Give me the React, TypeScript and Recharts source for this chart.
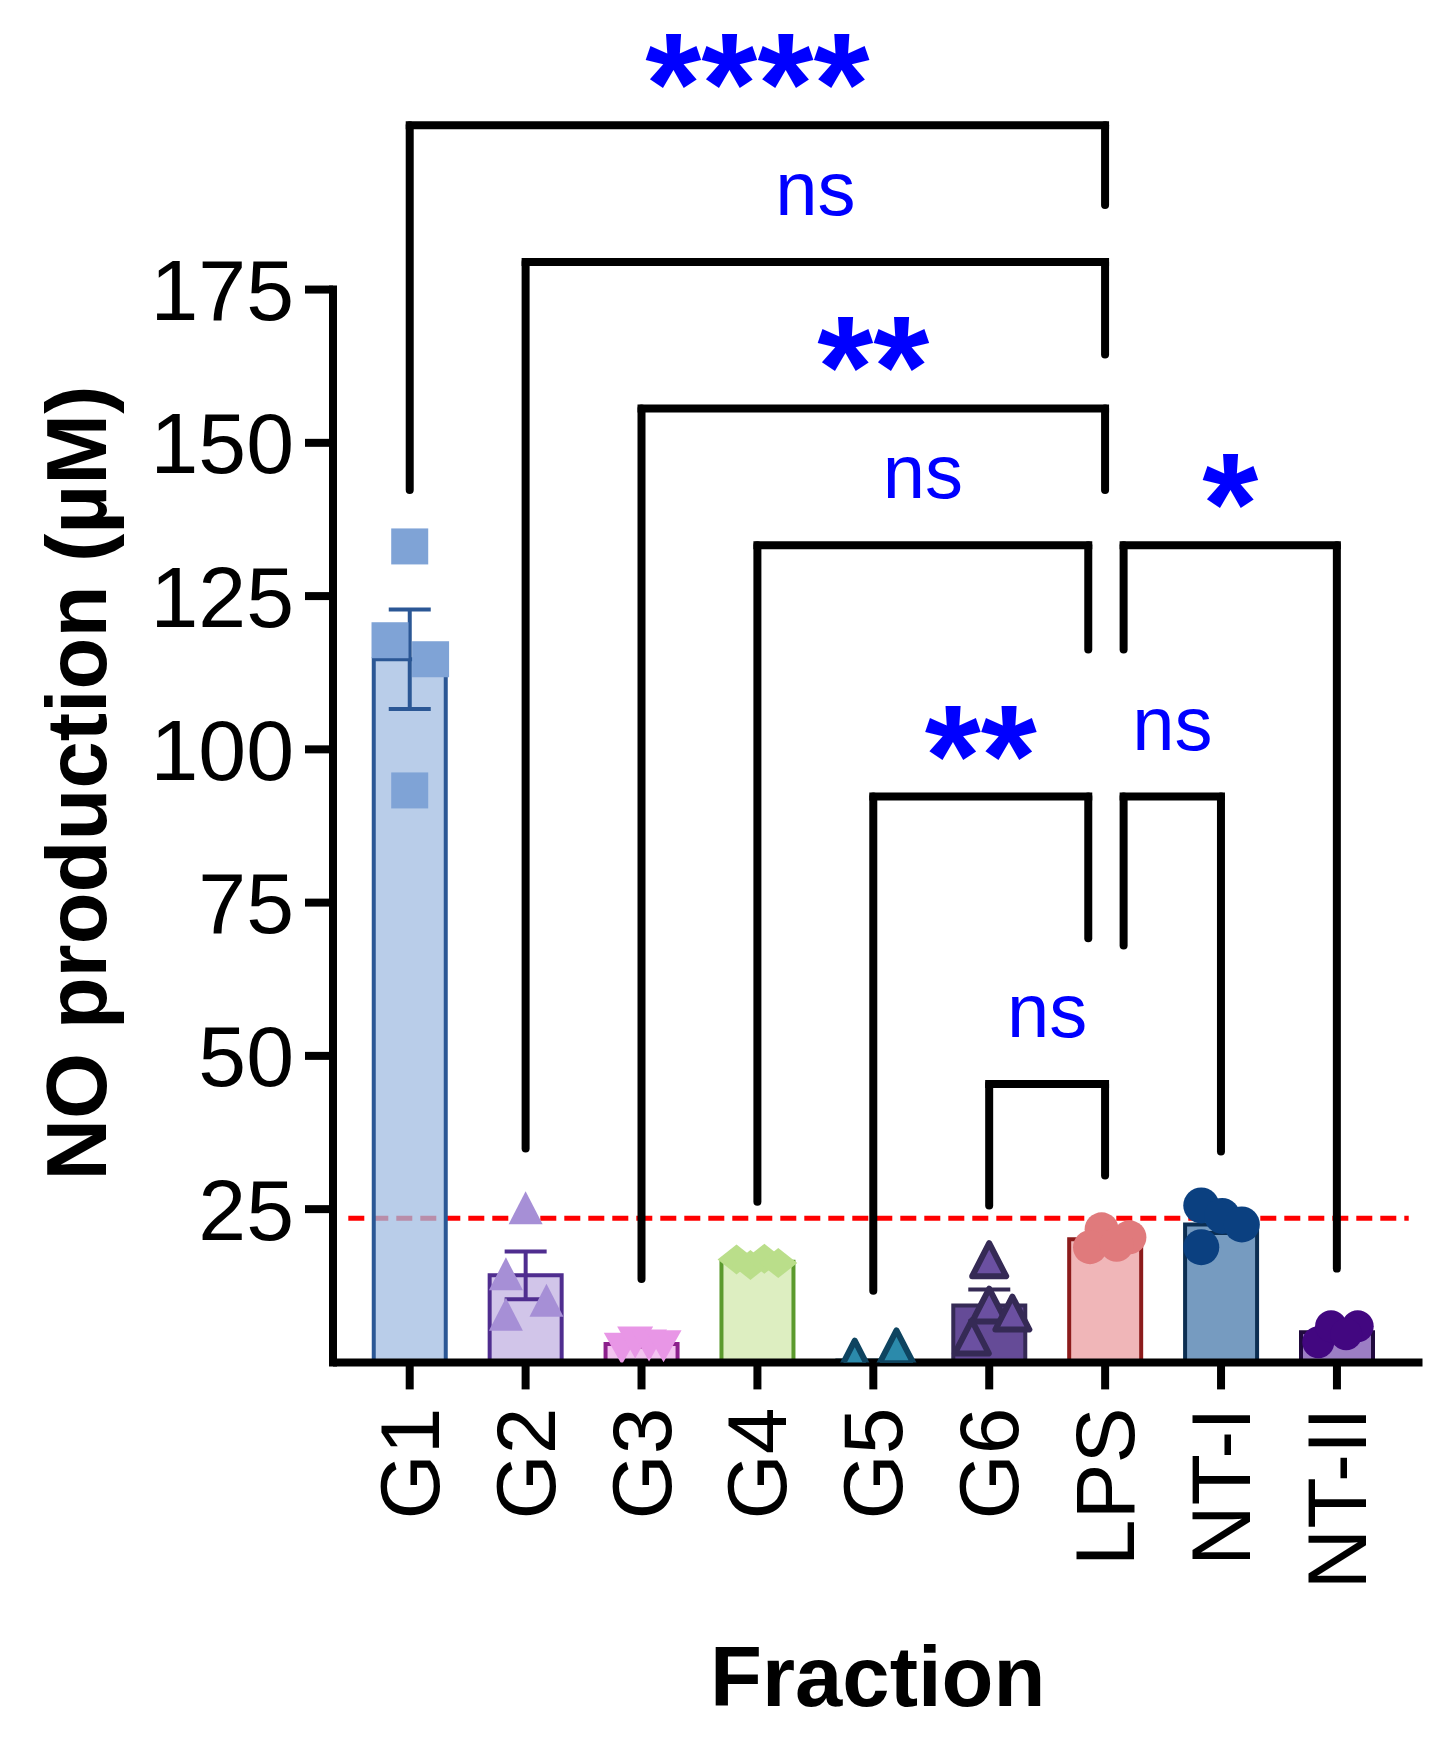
import {
  ComposedChart,
  Bar,
  Cell,
  ErrorBar,
  Scatter,
  XAxis,
  YAxis,
  ReferenceLine
} from "recharts";

const FONT = "'Liberation Sans', Arial, Helvetica, sans-serif";
const STAR_BLUE = "#0000ff";

const fractions = ["G1", "G2", "G3", "G4", "G5", "G6", "LPS", "NT-I", "NT-II"];
const meanNO = [114.7, 14.2, 3.0, 16.4, 0.3, 9.3, 20.1, 22.5, 4.9];
const semNO = [8.1, 3.9, 0.4, 0.3, 0, 2.6, 0.8, 1.4, 0.6];
const yTicks = [25, 50, 75, 100, 125, 150, 175];
const lpsLevel = 23.5; // red dashed line

// single wells (dots)
const replicates = [
  [133.1, 117.8, 114.7, 93.3],
  [25.0, 14.2, 9.9, 7.6],
  [2.4, 3.4, 2.9, 2.8],
  [16.8, 15.9, 16.9, 16.2],
  [0.6, 2.3],
  [16.5, 9.1, 7.8, 3.9],
  [21.7, 20.4, 18.8, 19.2],
  [25.6, 23.9, 22.5, 18.8],
  [3.3, 5.9, 5.9, 4.6]
];
// where the dots sit inside a column (in category units)
const jitter = [
  [0, -0.17, 0.18, 0],
  [0, -0.17, 0.18, -0.17],
  [-0.17, -0.055, 0.065, 0.19],
  [-0.18, -0.06, 0.06, 0.18],
  [-0.16, 0.2],
  [0, 0, 0.2, -0.15],
  [-0.03, 0.21, -0.13, 0.1],
  [-0.17, 0.01, 0.18, -0.17],
  [-0.16, -0.05, 0.18, 0.08]
];

// significance brackets
const bracketFrom = [0, 1, 2, 3, 6.16, 4, 6.16, 5];
const bracketTo = [6, 6, 6, 5.855, 8, 5.855, 7, 6];
const bracketTop = [201.8, 179.5, 155.6, 133.3, 133.3, 92.3, 92.3, 45.4];
const bracketFromEnd = [142.3, 34.9, 13.6, 26.2, 116.3, 11.7, 68.0, 25.6];
const bracketToEnd = [188.8, 164.4, 142.3, 116.3, 15.3, 69.2, 34.4, 30.5];
const bracketMark = ["****", "ns", "**", "ns", "*", "**", "ns", "ns"];

const barFill = ["#a2bce2", "#d1c5e9", "#f3c4f0", "#ddeec1", "#2b8aab", "#654b97", "#f0b6b8", "#769bc0", "#9c7ec4"];
const barStroke = ["#2b5795", "#4f2d8f", "#8c208c", "#5b9a2d", "#0e4460", "#352a55", "#8c1b1b", "#0c2e52", "#210a3e"];
const dotFill = ["#7fa3d6", "#a68fd6", "#e896e6", "#bade8a", "#2b8aab", "#6b50a1", "#e07a7c", "#0b4080", "#420780"];

const square = (fill: string) => (p: any) => (
  <rect x={p.cx - 18.5} y={p.cy - 18} width={37} height={36} fill={fill} />
);
const triangle = (fill: string, stroke?: string) => (p: any) => (
  <polygon
    points={`${p.cx},${p.cy - 18} ${p.cx + 17},${p.cy + 15} ${p.cx - 17},${p.cy + 15}`}
    fill={fill}
    stroke={stroke ?? "none"}
    strokeWidth={stroke ? 6 : 0}
    strokeLinejoin="round"
  />
);
const triangleDown = (fill: string) => (p: any) => (
  <polygon
    points={`${p.cx - 18},${p.cy - 15} ${p.cx + 18},${p.cy - 15} ${p.cx},${p.cy + 17}`}
    fill={fill}
  />
);
const diamond = (fill: string) => (p: any) => (
  <polygon
    points={`${p.cx},${p.cy - 15} ${p.cx + 19},${p.cy} ${p.cx},${p.cy + 15} ${p.cx - 19},${p.cy}`}
    fill={fill}
  />
);
const dot = (fill: string, r: number) => (p: any) => <circle cx={p.cx} cy={p.cy} r={r} fill={fill} />;

const dotShapes = [
  square(dotFill[0]),
  triangle(dotFill[1]),
  triangleDown(dotFill[2]),
  diamond(dotFill[3]),
  triangle(dotFill[4], barStroke[4]),
  triangle(dotFill[5], barStroke[5]),
  dot(dotFill[6], 17),
  dot(dotFill[7], 18),
  dot(dotFill[8], 16)
];

function FractionTick(props: any) {
  const { x, y, payload } = props;
  return (
    <text
      x={x}
      y={y}
      transform={`rotate(-90, ${x}, ${y})`}
      textAnchor="end"
      dominantBaseline="central"
      fontSize={84}
      fontFamily={FONT}
      fill="#000"
    >
      {payload.value}
    </text>
  );
}

function YTitle() {
  return (
    <text
      x={106}
      y={783}
      transform="rotate(-90, 106, 783)"
      textAnchor="middle"
      fontSize={85}
      fontWeight="bold"
      fontFamily={FONT}
      fill="#000"
    >
      NO production (µM)
    </text>
  );
}

export default function App() {
  const rows = fractions.map((f, i) => ({
    name: f,
    idx: i,
    mean: meanNO[i],
    [`err${i}`]: semNO[i] || undefined
  }));

  const axisStroke = { stroke: "#000", strokeWidth: 8 };

  return (
    <div style={{ position: "absolute", left: 0, top: 0, width: 1448, height: 1742, background: "#fff" }}>
      <ComposedChart
        width={1448}
        height={1742}
        data={rows}
        margin={{ top: 75, right: 25.5, bottom: 0, left: 0 }}
      >
        <XAxis
          xAxisId="cat"
          type="category"
          dataKey="name"
          padding={{ left: 18.75, right: 27.6 }}
          interval={0}
          height={379.6}
          axisLine={axisStroke}
          tickLine={axisStroke}
          tickSize={27}
          tickMargin={18}
          tick={(p: any) => <FractionTick {...p} />}
          label={{
            value: "Fraction",
            position: "insideBottom",
            offset: 36,
            fontSize: 85,
            fontWeight: "bold",
            fill: "#000",
            fontFamily: FONT
          }}
        />
        <XAxis
          xAxisId="num"
          type="number"
          dataKey="idx"
          domain={[-0.662, 8.739]}
          allowDataOverflow
          hide
        />
        <YAxis
          type="number"
          domain={[0, 210]}
          allowDataOverflow
          ticks={yTicks}
          width={333}
          axisLine={false}
          tickLine={axisStroke}
          tickSize={28}
          tickMargin={11}
          tick={{ fill: "#000", fontSize: 86, fontFamily: FONT }}
          label={{ content: () => <YTitle /> }}
        />

        <ReferenceLine
          xAxisId="num"
          segment={[{ x: -0.53, y: lpsLevel }, { x: 8.62, y: lpsLevel }]}
          stroke="#ff0000"
          strokeWidth={5}
          strokeDasharray="16 8"
          ifOverflow="visible"
          zIndex={250}
        />

        <Bar xAxisId="cat" dataKey="mean" barSize={72} strokeWidth={4} isAnimationActive={false}>
          {fractions.map((f, i) => (
            <Cell key={f} fill={barFill[i]} fillOpacity={i === 0 ? 0.75 : 1} stroke={barStroke[i]} />
          ))}
          {fractions.map((f, i) => (
            <ErrorBar
              key={`e${f}`}
              dataKey={`err${i}`}
              direction="y"
              width={21}
              strokeWidth={4}
              stroke={barStroke[i]}
              isAnimationActive={false}
            />
          ))}
        </Bar>

        {fractions.map((f, i) => (
          <Scatter
            key={`s${f}`}
            xAxisId="num"
            data={replicates[i].map((v, k) => ({ idx: i + jitter[i][k], v }))}
            dataKey="v"
            shape={dotShapes[i]}
            isAnimationActive={false}
          />
        ))}

        {bracketMark.map((mark, i) => {
          const stars = mark !== "ns";
          return [
            <ReferenceLine
              key={`bl${i}`}
              xAxisId="num"
              segment={[{ x: bracketFrom[i], y: bracketFromEnd[i] }, { x: bracketFrom[i], y: bracketTop[i] }]}
              stroke="#000"
              strokeWidth={8}
              strokeLinecap="round"
              ifOverflow="visible"
            />,
            <ReferenceLine
              key={`br${i}`}
              xAxisId="num"
              segment={[{ x: bracketTo[i], y: bracketToEnd[i] }, { x: bracketTo[i], y: bracketTop[i] }]}
              stroke="#000"
              strokeWidth={8}
              strokeLinecap="round"
              ifOverflow="visible"
            />,
            <ReferenceLine
              key={`bt${i}`}
              xAxisId="num"
              segment={[{ x: bracketFrom[i], y: bracketTop[i] }, { x: bracketTo[i], y: bracketTop[i] }]}
              stroke="#000"
              strokeWidth={8}
              strokeLinecap="square"
              ifOverflow="visible"
              label={{
                value: mark,
                position: "top",
                offset: stars ? -9 : 47,
                fill: STAR_BLUE,
                fontSize: stars ? 144 : 76,
                fontWeight: stars ? "bold" : "normal",
                fontFamily: FONT
              }}
            />
          ];
        })}

        {/* y axis stops at 175 */}
        <ReferenceLine
          xAxisId="num"
          segment={[{ x: -0.662, y: 0 }, { x: -0.662, y: 175 }]}
          stroke="#000"
          strokeWidth={8}
          strokeLinecap="square"
          ifOverflow="visible"
        />
      </ComposedChart>
    </div>
  );
}
